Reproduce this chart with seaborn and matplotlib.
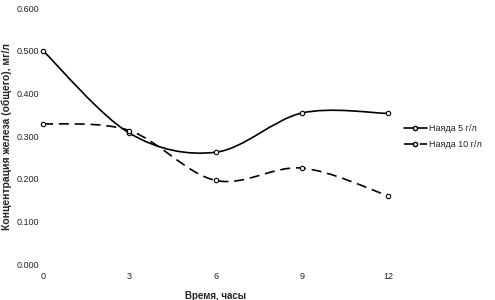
import matplotlib
matplotlib.use('Agg')
import matplotlib.pyplot as plt
import numpy as np
import pandas as pd
import seaborn as sns
from matplotlib.lines import Line2D
from matplotlib.path import Path
from matplotlib.patches import PathPatch

# data
hours = [0, 3, 6, 9, 12]
nayada_5 = [0.500, 0.307, 0.262, 0.354, 0.353]
nayada_10 = [0.329, 0.313, 0.196, 0.225, 0.160]
labels = ['Наяда 5 г/л', 'Наяда 10 г/л']
y_ticks = [0.0, 0.1, 0.2, 0.3, 0.4, 0.5, 0.6]

df = pd.DataFrame({'hours': hours * 2,
                   'conc': nayada_5 + nayada_10,
                   'series': [labels[0]] * 5 + [labels[1]] * 5})

sns.set_style('white')
plt.rcParams['font.family'] = ['Liberation Sans', 'DejaVu Sans']

fig = plt.figure(figsize=(4.95, 3.0), dpi=100)
ax = fig.add_axes([0.087, 0.12, 0.697, 0.853])


def smooth_path(xs, ys):
    # excel-like smoothed line as cubic bezier segments
    pts = np.column_stack([xs, ys]).astype(float)
    n = len(pts)
    verts = [pts[0]]
    codes = [Path.MOVETO]
    for i in range(n - 1):
        p0 = pts[i - 1] if i > 0 else pts[i]
        p1 = pts[i]
        p2 = pts[i + 1]
        p3 = pts[i + 2] if i + 2 < n else pts[i + 1]
        c1 = p1 + (p2 - p0) / 6
        c2 = p2 - (p3 - p1) / 6
        verts += [c1, c2, p2]
        codes += [Path.CURVE4] * 3
    return Path(verts, codes)


dash = (0, (6, 3.5))
for vals, ls in [(nayada_5, '-'), (nayada_10, dash)]:
    ax.add_patch(PathPatch(smooth_path(hours, vals), fill=False,
                           edgecolor='black', lw=1.2, linestyle=ls))

sns.scatterplot(data=df, x='hours', y='conc', marker='o', s=10,
                color='white', edgecolor='black', linewidth=0.8,
                legend=False, ax=ax, zorder=3, clip_on=False)

ax.set_xlim(0, 12)
ax.set_ylim(0, 0.6)
ax.set_xticks(hours)
ax.set_xticklabels([str(h) for h in hours], fontsize=6.5)
ax.set_yticks(y_ticks)
ax.set_yticklabels(['%.3f' % v for v in y_ticks], fontsize=6.5)
ax.tick_params(axis='y', length=0, pad=3, colors='#222222')
ax.tick_params(axis='x', length=0, pad=6, colors='#222222')
for s in ax.spines.values():
    s.set_visible(False)
ax.set_xlabel('Время, часы', fontsize=7, fontweight='bold')
ax.xaxis.set_label_coords(0.5, -0.105)
ax.set_ylabel('Концентрация железа (общего), мг/л', fontsize=7.5,
              fontweight='bold')
ax.yaxis.set_label_coords(-0.09, 0.5)

handles = [Line2D([0], [0], color='black', lw=1.2, marker='o', ms=3,
                  mfc='white', mec='black'),
           Line2D([0], [0], color='black', lw=1.2, ls=dash, marker='o',
                  ms=3, mfc='white', mec='black')]
fig.legend(handles, labels, loc='center left', bbox_to_anchor=(0.80, 0.545),
           frameon=False, fontsize=6.5, handlelength=2.5, handletextpad=0.3,
           labelspacing=0.8)

fig.savefig('out.png', dpi=100)
